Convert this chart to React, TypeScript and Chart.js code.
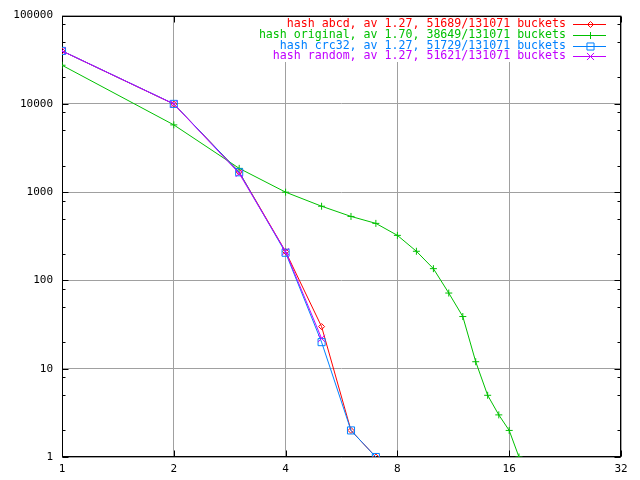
import React, { useEffect, useRef } from 'react';
import { Chart, registerables } from 'chart.js';
import { drawPoint } from 'chart.js/helpers';

Chart.register(...registerables);

// ---- data ----
const chainLengths = [1, 2, 3, 4, 5, 6, 7, 8, 9, 10, 11, 12, 13, 14, 15, 16, 17];
const abcdCounts = [39800, 9960, 1690, 212, 30, 2, 1];
const originalCounts = [27400, 5780, 1860, 1000, 693, 531, 443, 324, 214, 136, 72, 39, 12, 5, 3, 2, 1];
const crc32Counts = [39820, 10000, 1680, 206, 20, 2, 1];
const randomCounts = [39800, 9980, 1630, 212, 22];

const seriesLabels = [
  'hash abcd, av 1.27, 51689/131071 buckets',
  'hash original, av 1.70, 38649/131071 buckets',
  'hash crc32, av 1.27, 51729/131071 buckets',
  'hash random, av 1.27, 51621/131071 buckets',
];
const seriesColors = ['#ff0000', '#00c000', '#0080ff', '#c000ff'];
const seriesPoints = ['rectRot', 'cross', 'rect', 'crossRot'];
const seriesPointRadius = [3, 3.5, 5, 5];

const xTicks = [1, 2, 4, 8, 16, 32];
const yTicks = [1, 10, 100, 1000, 10000, 100000];
const yMinorFactors = [2, 5, 8];

const FONT_FAMILY = "'DejaVu Sans Mono', monospace";

const toPoints = (vals: number[]) => vals.map((v, i) => ({ x: chainLengths[i], y: v }));

const framePlugin = {
  id: 'gnuplotFrame',
  beforeDatasetsDraw(chart: any) {
    const { ctx, chartArea: a, scales } = chart;
    const xs = scales.x;
    const ys = scales.y;
    const L = Math.round(a.left) + 0.5;
    const R = Math.round(a.right) - 0.5;
    const T = Math.round(a.top) + 0.5;
    const B = Math.round(a.bottom) - 0.5;
    ctx.save();
    ctx.strokeStyle = '#000';
    ctx.lineWidth = 1;
    ctx.beginPath();
    for (const v of yTicks) {
      const py = Math.round(ys.getPixelForValue(v)) + 0.5;
      ctx.moveTo(L, py); ctx.lineTo(L + 6, py);
      ctx.moveTo(R, py); ctx.lineTo(R - 6, py);
    }
    for (let i = 0; i < yTicks.length - 1; i++) {
      for (const f of yMinorFactors) {
        const py = Math.round(ys.getPixelForValue(yTicks[i] * f)) + 0.5;
        ctx.moveTo(L, py); ctx.lineTo(L + 3, py);
        ctx.moveTo(R, py); ctx.lineTo(R - 3, py);
      }
    }
    for (const v of xTicks) {
      const px = Math.round(xs.getPixelForValue(v)) + 0.5;
      ctx.moveTo(px, B); ctx.lineTo(px, B - 6);
      ctx.moveTo(px, T); ctx.lineTo(px, T + 6);
    }
    ctx.stroke();
    ctx.strokeRect(L, T, R - L, B - T);
    ctx.restore();
  },
};

const legendPlugin = {
  id: 'gnuplotKey',
  afterDatasetsDraw(chart: any) {
    const { ctx } = chart;
    const textRight = 566;
    const lineStart = 573;
    const lineEnd = 606;
    const y0 = 24;
    const dy = 10.8;
    ctx.save();
    ctx.font = `11.6px ${FONT_FAMILY}`;
    let maxW = 0;
    chart.data.datasets.forEach((ds: any) => {
      maxW = Math.max(maxW, ctx.measureText(ds.label).width);
    });
    ctx.fillStyle = '#fff';
    ctx.fillRect(textRight - maxW - 6, 17, 612 - (textRight - maxW - 6), 45);
    ctx.textAlign = 'right';
    ctx.textBaseline = 'middle';
    chart.data.datasets.forEach((ds: any, i: number) => {
      const y = y0 + i * dy;
      const ly = Math.round(y) + 0.5;
      ctx.fillStyle = ds.borderColor;
      ctx.fillText(ds.label, textRight, y);
      ctx.strokeStyle = ds.borderColor;
      ctx.lineWidth = 1;
      ctx.beginPath();
      ctx.moveTo(lineStart, ly);
      ctx.lineTo(lineEnd, ly);
      ctx.stroke();
      ctx.fillStyle = 'rgba(0,0,0,0)';
      ctx.strokeStyle = ds.borderColor;
      drawPoint(
        ctx,
        { pointStyle: ds.pointStyle, rotation: 0, radius: ds.pointRadius, borderWidth: 1 },
        Math.round((lineStart + lineEnd) / 2) + 0.5,
        ly
      );
    });
    ctx.restore();
  },
};

export default function App() {
  const ref = useRef<HTMLCanvasElement>(null);

  useEffect(() => {
    const allSeries = [abcdCounts, originalCounts, crc32Counts, randomCounts];
    const datasets = allSeries.map((vals, i) => ({
      label: seriesLabels[i],
      data: toPoints(vals),
      borderColor: seriesColors[i],
      backgroundColor: 'rgba(0,0,0,0)',
      borderWidth: 1,
      pointStyle: seriesPoints[i],
      pointRadius: seriesPointRadius[i],
      pointBorderWidth: 1,
      pointBorderColor: seriesColors[i],
      pointBackgroundColor: 'rgba(0,0,0,0)',
      tension: 0,
      fill: false,
      order: allSeries.length - i,
    }));

    const tickFont = { family: FONT_FAMILY, size: 11 };

    const chart = new Chart(ref.current as HTMLCanvasElement, {
      type: 'line',
      data: { datasets } as any,
      options: {
        animation: false,
        responsive: false,
        devicePixelRatio: 1,
        layout: { padding: { top: 13, right: 19, left: 0, bottom: 0 } },
        plugins: {
          legend: { display: false },
          tooltip: { enabled: false },
          title: { display: false },
        },
        scales: {
          x: {
            type: 'logarithmic',
            min: 1,
            max: 32,
            afterBuildTicks: (scale: any) => {
              scale.ticks = xTicks.map((v) => ({ value: v }));
            },
            afterFit: (scale: any) => {
              scale.height = 23;
            },
            ticks: {
              autoSkip: false,
              maxRotation: 0,
              minRotation: 0,
              padding: 6,
              color: '#000',
              font: tickFont,
              callback: (v: any) => String(v),
            },
            grid: { color: '#a0a0a0', lineWidth: 1, drawTicks: false },
            border: { display: false },
          },
          y: {
            type: 'logarithmic',
            min: 1,
            max: 100000,
            afterBuildTicks: (scale: any) => {
              scale.ticks = yTicks.map((v) => ({ value: v }));
            },
            afterFit: (scale: any) => {
              scale.width = 62;
            },
            ticks: {
              autoSkip: false,
              padding: 9,
              color: '#000',
              font: tickFont,
              callback: (v: any) => String(v),
            },
            grid: { color: '#a0a0a0', lineWidth: 1, drawTicks: false },
            border: { display: false },
          },
        },
      } as any,
      plugins: [framePlugin, legendPlugin],
    });

    return () => chart.destroy();
  }, []);

  return (
    <div style={{ position: 'absolute', left: 0, top: 0, width: 640, height: 480, background: '#fff' }}>
      <canvas ref={ref} width={640} height={480} style={{ display: 'block' }} />
    </div>
  );
}
